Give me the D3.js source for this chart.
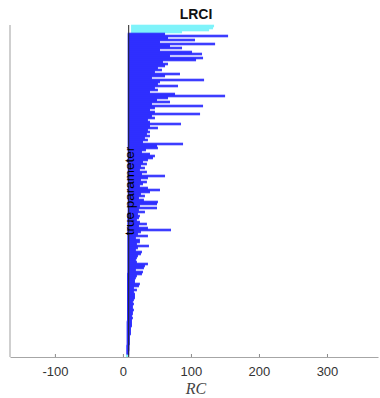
<!DOCTYPE html>
<html>
<head>
<meta charset="utf-8">
<script src="https://cdn.jsdelivr.net/npm/d3@7"></script>
<style>
  html, body { margin: 0; padding: 0; background: #fff; }
  svg { display: block; }
</style>
</head>
<body>
<svg id="chart" width="380" height="398"></svg>
<script>
// Likelihood-ratio confidence intervals, one per simulated sample, top to bottom.
// Each entry is [lower bound, upper bound] of the interval on RC.
const intervals = [
  [12, 134.0], [12, 132.5], [12, 126.7], [12, 86.9],
  [7, 61.9], [7, 154.6], [7, 66.3], [7, 106.0], [7, 54.5], [7, 135.5],
  [7, 69.2], [7, 86.9], [7, 54.5], [7, 101.6], [7, 116.3], [7, 69.2],
  [7, 117.8], [7, 107.5], [7, 58.9], [7, 66.3], [7, 61.9], [7, 51.5],
  [7, 57.4], [7, 47.1], [7, 83.9], [7, 61.9], [7, 42.7], [7, 119.3],
  [7, 54.5], [7, 51.5], [7, 81.0], [7, 47.1], [7, 51.5], [7, 39.8],
  [7, 76.6], [7, 150.2], [7, 66.3], [7, 50.1], [7, 69.2], [7, 42.7],
  [7, 117.8], [7, 47.1], [7, 39.8], [7, 47.1], [7, 113.4], [7, 42.7],
  [7, 47.1], [7, 36.8], [7, 39.8], [7, 85.4], [7, 39.8], [7, 51.5],
  [7, 36.8], [7, 39.8], [7, 35.3], [7, 39.8], [7, 32.4], [7, 36.8],
  [7, 29.5], [7, 88.4], [7, 50.1], [7, 51.5], [7, 33.9], [7, 28.0],
  [7, 39.8], [7, 47.1], [7, 44.2], [7, 36.8], [7, 29.5], [7, 35.3],
  [7, 26.5], [7, 32.4], [7, 25.0], [7, 35.3], [7, 28.0], [7, 61.9],
  [7, 36.8], [7, 26.5], [7, 35.3], [7, 29.5], [7, 25.0], [7, 36.8],
  [7, 54.5], [7, 39.8], [7, 26.5], [7, 32.4], [7, 23.6], [7, 30.9],
  [7, 51.5], [7, 50.1], [7, 25.0], [7, 50.1], [7, 23.6], [7, 32.4],
  [6.5, 22.1], [6.5, 25.0], [6.5, 23.6], [6.5, 20.6], [6.5, 25.0], [6.5, 35.3],
  [6.5, 23.6], [6.5, 36.8], [6.5, 70.7], [6.5, 26.5], [6.5, 22.1], [6.5, 36.8],
  [6.5, 19.1], [6.5, 25.0], [6.5, 25.0], [6.5, 20.6], [6.5, 38.3], [6.5, 22.1],
  [6.5, 19.1], [6.5, 28.0], [6.5, 26.5], [6.5, 22.1], [6.5, 20.6], [6.5, 19.1],
  [6.5, 20.6], [6.5, 36.8], [6.5, 32.4], [6.5, 30.9], [6.5, 19.1], [6.5, 29.5],
  [6, 28.0], [6, 20.6], [6, 19.1], [6, 17.7], [6, 17.7], [6, 25.0],
  [6, 23.6], [6, 16.2], [6, 20.6], [6, 16.2], [6, 17.7], [6, 17.7],
  [6, 17.7], [6, 16.2], [6, 14.7], [6, 16.2], [6, 14.7], [6, 14.7],
  [6, 16.2], [6, 14.7], [6, 14.7], [6, 13.3], [6, 14.7], [6, 13.3],
  [5.5, 13.3], [5.5, 13.3], [5.5, 13.3], [5.5, 11.8], [5.5, 11.8], [5.5, 11.8],
  [5.5, 11.8], [5.5, 10.3], [5.5, 10.3], [5.5, 10.3], [5.5, 10.3], [5.5, 10.3],
  [5, 9.6], [5, 9.6], [5, 9.6], [5, 9.2], [5, 9.2], [4.5, 7.5]
];
const trueValue = 8.5;
const xTicks = [-100, 0, 100, 200, 300];
const xDomain = [-166, 375];
const titleText = "LRCI";
const xLabel = "RC";
const lineLabel = "true parameter";

const svg = d3.select("#chart");
const plotLeft = 10, plotRight = 378, plotTop = 25, plotBottom = 357;

const x = d3.scaleLinear().domain(xDomain).range([plotLeft, plotRight]);
const y = d3.scaleBand().domain(d3.range(intervals.length)).range([plotTop, plotBottom]).padding(0);

// an interval misses when it does not contain the true value
const misses = d => d[0] > trueValue || d[1] < trueValue;

// interval lines overlap slightly so the short ones merge into a solid band
const bars = svg.append("g");
bars.selectAll("rect")
  .data(intervals)
  .join("rect")
  .attr("x", d => x(d[0]))
  .attr("y", (d, i) => y(i) - 0.3)
  .attr("width", d => x(d[1]) - x(d[0]))
  .attr("height", y.bandwidth() + 0.6)
  .attr("fill", d => misses(d) ? "#7ff3fa" : "#0000ff")
  .attr("fill-opacity", d => misses(d) ? 1 : 0.76);

// true parameter reference line
svg.append("line")
  .attr("x1", x(trueValue)).attr("x2", x(trueValue))
  .attr("y1", plotTop).attr("y2", plotBottom)
  .attr("stroke", "#222").attr("stroke-width", 1);

svg.append("text")
  .attr("transform", `translate(${x(trueValue) + 5.8},${(plotTop + plotBottom) / 2}) rotate(-90)`)
  .attr("text-anchor", "middle")
  .attr("font-family", "Liberation Sans, Arial, sans-serif")
  .attr("font-size", 13.5)
  .attr("fill", "#000")
  .text(lineLabel);

// axes
const xAxis = d3.axisBottom(x)
  .tickValues(xTicks)
  .tickFormat(d => String(d))
  .tickSizeInner(-3)
  .tickSizeOuter(0)
  .tickPadding(10);

const gx = svg.append("g")
  .attr("transform", `translate(0,${plotBottom})`)
  .call(xAxis);
gx.select(".domain").attr("stroke", "#a6a6a6");
gx.selectAll(".tick line").attr("stroke", "#8a8a8a");
gx.selectAll(".tick text")
  .attr("fill", "#333")
  .attr("font-family", "Liberation Sans, Arial, sans-serif")
  .attr("font-size", 13);

svg.append("line")
  .attr("x1", plotLeft).attr("x2", plotLeft)
  .attr("y1", plotTop).attr("y2", plotBottom)
  .attr("stroke", "#b5b5b5").attr("stroke-width", 1.3);

svg.append("text")
  .attr("x", (plotLeft + plotRight) / 2 + 2)
  .attr("y", 19)
  .attr("text-anchor", "middle")
  .attr("font-family", "Liberation Sans, Arial, sans-serif")
  .attr("font-weight", "bold")
  .attr("font-size", 14)
  .attr("fill", "#111")
  .text(titleText);

svg.append("text")
  .attr("x", (plotLeft + plotRight) / 2 + 2)
  .attr("y", 394)
  .attr("text-anchor", "middle")
  .attr("font-family", "Liberation Serif, Times New Roman, serif")
  .attr("font-style", "italic")
  .attr("font-size", 16)
  .attr("fill", "#444")
  .text(xLabel);
</script>
</body>
</html>
